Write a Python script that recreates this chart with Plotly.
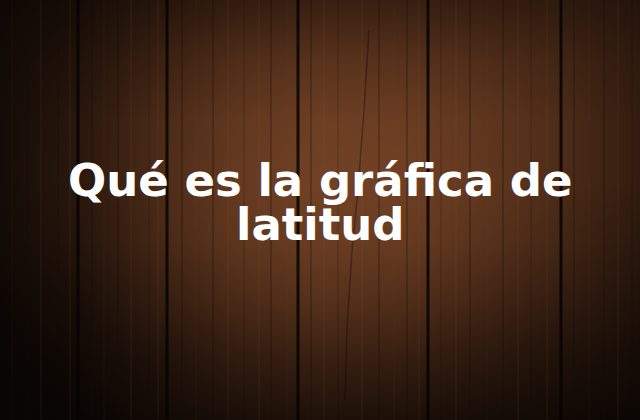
import plotly.graph_objects as go

# background light map (0 = near black, 1 = lit brown)
grid_x = [0, 80, 160, 240, 320, 400, 480, 560, 640]
grid_y = [0, 60, 120, 180, 240, 300, 360, 420]
light = [
    [0.06, 0.14, 0.28, 0.40, 0.45, 0.45, 0.42, 0.36, 0.26],
    [0.10, 0.24, 0.48, 0.66, 0.74, 0.72, 0.66, 0.54, 0.36],
    [0.12, 0.32, 0.62, 0.82, 0.92, 0.90, 0.80, 0.64, 0.40],
    [0.12, 0.34, 0.64, 0.86, 0.96, 0.94, 0.82, 0.64, 0.40],
    [0.10, 0.28, 0.58, 0.80, 0.90, 0.87, 0.74, 0.56, 0.32],
    [0.05, 0.17, 0.42, 0.62, 0.72, 0.68, 0.56, 0.40, 0.22],
    [0.02, 0.08, 0.22, 0.38, 0.46, 0.43, 0.33, 0.22, 0.12],
    [0.01, 0.03, 0.09, 0.17, 0.21, 0.19, 0.14, 0.08, 0.04],
]

# gaps between the planks
gap_x = [78, 167, 298, 428, 561]

# wood grain streaks
grain_x = [12, 27, 41, 58, 70, 92, 104, 118, 131, 149, 158,
           182, 196, 213, 228, 244, 259, 271, 287,
           311, 324, 338, 362, 379, 394, 407, 419,
           441, 456, 470, 487, 503, 518, 531, 547,
           574, 589, 604, 618, 632]

# crack in the middle plank
crack_x = [369, 364, 358, 352, 347, 345]
crack_y = [30, 110, 190, 250, 330, 400]

title_lines = ["Qué es la gráfica de", "latitud"]
title_y = [180, 224]

fig = go.Figure()

fig.add_trace(go.Heatmap(
    x=grid_x, y=grid_y, z=light,
    zmin=0, zmax=1, zsmooth="best", showscale=False, hoverinfo="skip",
    colorscale=[[0, "rgb(7,4,2)"], [0.45, "rgb(55,31,17)"], [1, "rgb(118,68,38)"]],
))

for i, gx in enumerate(grain_x):
    fig.add_trace(go.Scatter(
        x=[gx, gx], y=[0, 420], mode="lines",
        line=dict(color="rgba(20,10,5,0.25)" if i % 2 else "rgba(150,95,60,0.08)",
                  width=2 if i % 3 else 1),
        hoverinfo="skip", showlegend=False,
    ))

for gx in gap_x:
    fig.add_trace(go.Scatter(
        x=[gx, gx], y=[0, 420], mode="lines",
        line=dict(color="rgba(6,3,1,0.85)", width=3),
        hoverinfo="skip", showlegend=False,
    ))

fig.add_trace(go.Scatter(
    x=crack_x, y=crack_y, mode="lines",
    line=dict(color="rgba(10,5,2,0.35)", width=1.5),
    hoverinfo="skip", showlegend=False,
))

# two separate annotations so the lines sit as close as in the picture
for line, ty in zip(title_lines, title_y):
    fig.add_annotation(
        x=320, y=ty, xref="x", yref="y", text=line, showarrow=False,
        font=dict(family="DejaVu Sans", size=45, color="white", weight="bold"),
    )

fig.update_xaxes(range=[0, 640], visible=False)
fig.update_yaxes(range=[420, 0], visible=False)
fig.update_layout(
    width=640, height=420, margin=dict(l=0, r=0, t=0, b=0),
    showlegend=False, paper_bgcolor="rgb(7,4,2)", plot_bgcolor="rgb(7,4,2)",
)

fig.write_html("out.html", config={"displayModeBar": False},
               post_script="document.body.style.margin='0';")
